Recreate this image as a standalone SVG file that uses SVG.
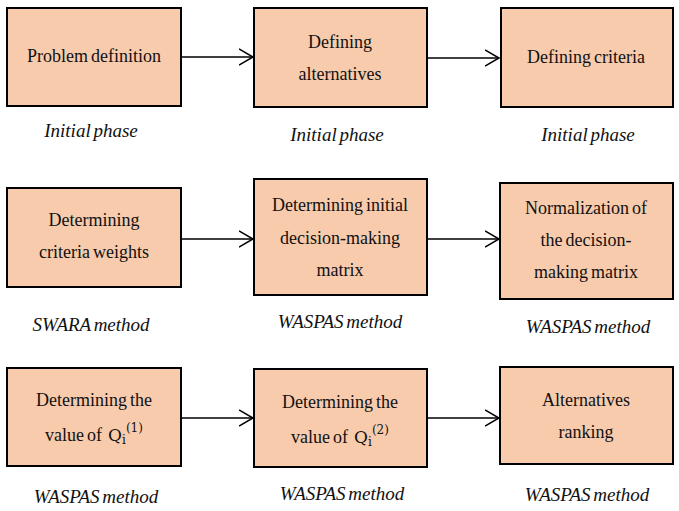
<svg xmlns="http://www.w3.org/2000/svg" width="679" height="511" viewBox="0 0 679 511">
<defs>
<style>
.box{fill:#F8CBAD;stroke:#000;stroke-width:2}
.t{font-family:'Liberation Serif','Times New Roman',serif;font-size:18px;fill:#111;text-anchor:middle;word-spacing:-1.5px}
.lab{font-family:'Liberation Serif','Times New Roman',serif;font-size:19px;font-style:italic;fill:#111;text-anchor:middle;word-spacing:-2px}
.q{font-family:'DejaVu Serif',serif;font-size:17px}
.sub{font-family:'DejaVu Serif',serif;font-size:12px}
.sup{font-family:'DejaVu Serif',serif;font-size:12px}
.con{stroke:#000;stroke-width:1.5;fill:none}
</style>
<marker id="ah" markerUnits="userSpaceOnUse" markerWidth="16" markerHeight="20" refX="14" refY="9" orient="auto">
<path d="M0,1 L14,9 L0,17" fill="none" stroke="#000" stroke-width="1.5"/>
</marker>
</defs>
<rect width="679" height="511" fill="#fff"/>
<g id="connectors">
<line class="con" x1="181" y1="57" x2="253" y2="57" marker-end="url(#ah)"/>
<line class="con" x1="427" y1="58" x2="499" y2="58" marker-end="url(#ah)"/>
<line class="con" x1="181" y1="239" x2="253" y2="239" marker-end="url(#ah)"/>
<line class="con" x1="427" y1="239" x2="499" y2="239" marker-end="url(#ah)"/>
<line class="con" x1="181" y1="418" x2="253" y2="418" marker-end="url(#ah)"/>
<line class="con" x1="427" y1="418" x2="499" y2="418" marker-end="url(#ah)"/>
</g>
<g id="n1"><rect class="box" x="7" y="8" width="174" height="98"/><text class="t" x="94" y="62">Problem definition</text></g>
<g id="n2"><rect class="box" x="254" y="8" width="173" height="99"/><text class="t" x="340" y="48">Defining</text><text class="t" x="340" y="80">alternatives</text></g>
<g id="n3"><rect class="box" x="501" y="8" width="172" height="99"/><text class="t" x="586" y="63">Defining criteria</text></g>
<g id="l1"><text class="lab" x="91" y="137">Initial phase</text></g>
<g id="l2"><text class="lab" x="337" y="141">Initial phase</text></g>
<g id="l3"><text class="lab" x="588" y="141">Initial phase</text></g>
<g id="n4"><rect class="box" x="7" y="188" width="174" height="99"/><text class="t" x="94" y="226">Determining</text><text class="t" x="94" y="258">criteria weights</text></g>
<g id="n5"><rect class="box" x="254" y="179" width="173" height="116"/><text class="t" x="340" y="211">Determining initial</text><text class="t" x="340" y="244">decision-making</text><text class="t" x="340" y="276">matrix</text></g>
<g id="n6"><rect class="box" x="500" y="183" width="173" height="116"/><text class="t" x="586" y="214">Normalization of</text><text class="t" x="586" y="246">the decision-</text><text class="t" x="586" y="278">making matrix</text></g>
<g id="l4"><text class="lab" x="91" y="331">SWARA method</text></g>
<g id="l5"><text class="lab" x="340" y="328">WASPAS method</text></g>
<g id="l6"><text class="lab" x="588" y="333">WASPAS method</text></g>
<g id="n7"><rect class="box" x="7" y="368" width="174" height="98"/><text class="t" x="94" y="406">Determining the</text><text class="t" x="94" y="441" xml:space="preserve">value of  <tspan class="q">Q</tspan><tspan class="sub" dy="3">i</tspan><tspan class="sup" dy="-12">(1)</tspan></text></g>
<g id="n8"><rect class="box" x="254" y="369" width="173" height="98"/><text class="t" x="340" y="408">Determining the</text><text class="t" x="340" y="443" xml:space="preserve">value of  <tspan class="q">Q</tspan><tspan class="sub" dy="3">i</tspan><tspan class="sup" dy="-12">(2)</tspan></text></g>
<g id="n9"><rect class="box" x="500" y="367" width="173" height="97"/><text class="t" x="586" y="406">Alternatives</text><text class="t" x="586" y="438">ranking</text></g>
<g id="l7"><text class="lab" x="96" y="503">WASPAS method</text></g>
<g id="l8"><text class="lab" x="342" y="500">WASPAS method</text></g>
<g id="l9"><text class="lab" x="587" y="501">WASPAS method</text></g>
</svg>
